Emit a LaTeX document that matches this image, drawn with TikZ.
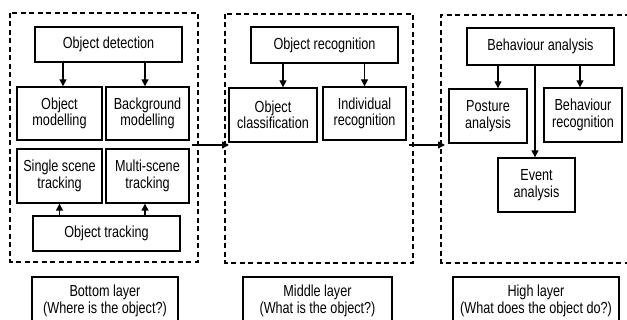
\documentclass[tikz,border=0pt]{standalone}
\usepackage{fontspec}
\setmainfont[FakeStretch=0.79]{Liberation Sans}
\usetikzlibrary{arrows.meta}
\begin{document}
\begin{tikzpicture}[x=1pt,y=-1pt,
  box/.style={draw,line width=1.4pt,inner sep=0pt,align=center,
    font=\fontsize{16}{16.5}\selectfont},
  layer/.style={draw,line width=1.4pt,dash pattern=on 5pt off 3.5pt},
  arr/.style={line width=1.4pt,-{Triangle[length=7pt,width=7pt]}}]
\useasboundingbox (0,0) rectangle (627,320);
% dashed layers
\draw[layer] (10,13) rectangle (198,262);
\draw[layer] (225,14) rectangle (413,263);
\draw[layer] (630,15) -- (441,15) -- (441,263) -- (630,263);
% bottom layer
\node[box,minimum width=147pt,minimum height=35pt] (det) at (108.5,44.5) {Object detection};
\node[box,minimum width=85pt,minimum height=53pt] (om) at (59.5,113.5) {Object\\modelling};
\node[box,minimum width=83pt,minimum height=53pt] (bm) at (147.5,113.5) {Background\\modelling};
\node[box,minimum width=85pt,minimum height=54pt] (sst) at (59.5,176) {Single scene\\tracking};
\node[box,minimum width=83pt,minimum height=54pt] (mst) at (147.5,176) {Multi-scene\\tracking};
\node[box,minimum width=147pt,minimum height=35pt] (ot) at (106.5,233.5) {Object tracking};
\node[box,minimum width=146pt,minimum height=48pt] (bl) at (105,301) {Bottom layer\\(Where is the object?)};
\draw[arr] ([xshift=3.5pt]om.north |- det.south) -- ([xshift=3.5pt]om.north);
\draw[arr] ([xshift=-2.5pt]bm.north |- det.south) -- ([xshift=-2.5pt]bm.north);
\draw[arr] (sst.south |- ot.north) -- (sst.south);
\draw[arr] ([xshift=-2.5pt]mst.south |- ot.north) -- ([xshift=-2.5pt]mst.south);
% middle layer
\node[box,minimum width=147pt,minimum height=36pt] (orec) at (324.5,45) {Object recognition};
\node[box,minimum width=88pt,minimum height=54pt] (ocls) at (273,115) {Object\\classification};
\node[box,minimum width=83pt,minimum height=53pt] (irec) at (364.5,113.5) {Individual\\recognition};
\node[box,minimum width=149pt,minimum height=48pt] (ml) at (317.5,301) {Middle layer\\(What is the object?)};
\draw[arr] ([xshift=10pt]ocls.north |- orec.south) -- ([xshift=10pt]ocls.north);
\draw[arr] (irec.north |- orec.south) -- (irec.north);
% high layer
\node[box,minimum width=147pt,minimum height=37pt] (ba) at (540.5,46.5) {Behaviour analysis};
\node[box,minimum width=78pt,minimum height=54pt] (pa) at (488,116) {Posture\\analysis};
\node[box,minimum width=78pt,minimum height=54pt] (br) at (583,115) {Behaviour\\recognition};
\node[box,minimum width=77pt,minimum height=54pt] (ea) at (536.5,185) {Event\\analysis};
\node[box,minimum width=166pt,minimum height=48pt] (hl) at (536,301) {High layer\\(What does the object do?)};
\draw[arr] ([xshift=10pt]pa.north |- ba.south) -- ([xshift=10pt]pa.north);
\draw[arr] ([xshift=-3pt]br.north |- ba.south) -- ([xshift=-3pt]br.north);
\draw[arr] ([xshift=-1.5pt]ea.north |- ba.south) -- ([xshift=-1.5pt]ea.north);
% layer links
\coordinate (l1s) at (192,145);
\coordinate (l1e) at (229,145);
\coordinate (l2s) at (409,145);
\coordinate (l2e) at (445,145);
\draw[arr] (l1s) -- (l1e);
\draw[arr] (l2s) -- (l2e);
\end{tikzpicture}
\end{document}
